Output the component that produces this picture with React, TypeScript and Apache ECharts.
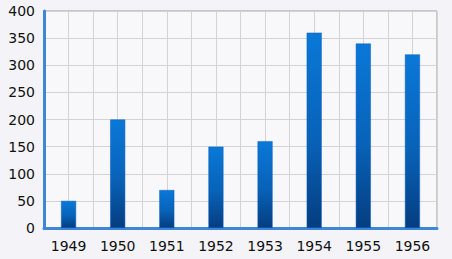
import React, { useEffect, useRef } from "react";
import * as echarts from "echarts";

const categories = ["1949", "1950", "1951", "1952", "1953", "1954", "1955", "1956"];
const values = [50, 200, 70, 150, 160, 360, 340, 320];

export default function App() {
  const ref = useRef<HTMLDivElement>(null);
  useEffect(() => {
    const chart = echarts.init(ref.current!, null, { renderer: "svg" });
    const font = "'Segoe UI', 'DejaVu Sans', 'Liberation Sans', sans-serif";
    chart.setOption({
      animation: false,
      backgroundColor: "#f4f4f8",
      grid: {
        left: 44,
        right: 15,
        top: 11,
        bottom: 31,
        show: true,
        backgroundColor: "#f8f8fb",
        borderColor: "#9a9a9a",
        borderWidth: 1,
      },
      xAxis: [
        {
          type: "category",
          data: categories,
          boundaryGap: true,
          axisLine: { show: true, lineStyle: { color: "#3d86d8", width: 3 } },
          axisTick: { show: false },
          axisLabel: { color: "#111", fontSize: 14, fontFamily: font, margin: 11 },
          splitLine: { show: false },
        },
        {
          type: "value",
          min: 0,
          max: 16,
          interval: 1,
          show: true,
          position: "bottom",
          axisLine: { show: false },
          axisTick: { show: false },
          axisLabel: { show: false },
          splitLine: { show: true, lineStyle: { color: "#d3d3d7", width: 1 } },
        },
      ],
      yAxis: {
        type: "value",
        min: 0,
        max: 400,
        interval: 50,
        axisLine: { show: true, lineStyle: { color: "#3d86d8", width: 3 } },
        axisTick: { show: false },
        axisLabel: { color: "#111", fontSize: 14, fontFamily: font, margin: 9 },
        splitLine: { show: true, lineStyle: { color: "#d3d3d7", width: 1 } },
      },
      series: [
        {
          type: "bar",
          xAxisIndex: 0,
          data: values,
          barWidth: 15,
          z: 3,
          itemStyle: {
            color: new echarts.graphic.LinearGradient(0, 0, 0, 1, [
              { offset: 0, color: "#0a78d8" },
              { offset: 0.55, color: "#0862b8" },
              { offset: 1, color: "#053d80" },
            ]),
            borderColor: "#0a5fc0",
            borderWidth: 0.5,
          },
        },
      ],
    });
    return () => chart.dispose();
  }, []);
  return (
    <div
      ref={ref}
      style={{ position: "fixed", left: 0, top: 0, width: 452, height: 259 }}
    />
  );
}
